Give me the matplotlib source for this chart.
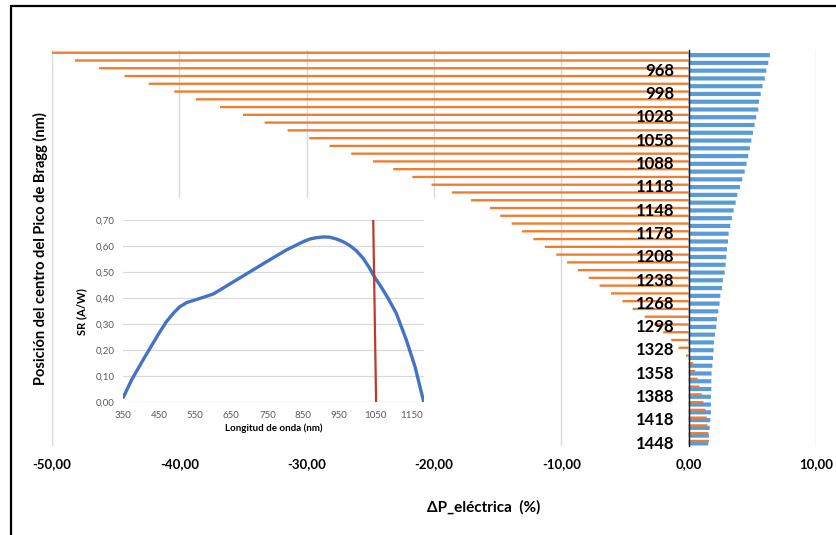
import numpy as np
import matplotlib
matplotlib.use("Agg")
import matplotlib.pyplot as plt
from matplotlib.lines import Line2D
from matplotlib import font_manager


def pick_family(candidates):
    """Return the first family that has a bold face installed."""
    for name in candidates:
        for f in font_manager.fontManager.ttflist:
            w = f.weight if isinstance(f.weight, int) else 400
            if f.name == name and (w >= 600 or str(f.weight) == 'bold'):
                return name
    return 'DejaVu Sans'


FAMILY = pick_family(['Lato', 'Open Sans', 'Noto Sans', 'Liberation Sans'])
plt.rcParams['font.family'] = [FAMILY, 'DejaVu Sans']

# Bragg peak centre (nm) for each row
wavelengths = list(range(948, 1449, 10))

# Electrical power change (%) - orange series
delta_orange = [
    -50.0, -48.2, -46.3, -44.3, -42.4, -40.4, -38.7, -36.8, -35.0, -33.3,
    -31.5, -29.8, -28.2, -26.5, -24.8, -23.2, -21.7, -20.2, -18.6, -17.1,
    -15.6, -14.8, -13.9, -13.1, -12.2, -11.3, -10.4, -9.55, -8.7, -7.85,
    -7.0, -6.1, -5.2, -4.4, -3.45, -2.7, -2.0, -1.37, -0.8, -0.2,
    0.36, 0.5, 0.7, 0.85, 1.03, 1.16, 1.32, 1.41, 1.46, 1.54, 1.60,
]

# Electrical power change (%) - blue series
delta_blue = [
    6.38, 6.25, 6.10, 5.98, 5.80, 5.66, 5.52, 5.47, 5.31, 5.18,
    5.05, 4.92, 4.81, 4.68, 4.55, 4.40, 4.21, 4.03, 3.82, 3.69,
    3.53, 3.40, 3.27, 3.14, 3.09, 3.01, 2.96, 2.90, 2.83, 2.69,
    2.62, 2.49, 2.43, 2.33, 2.22, 2.17, 2.06, 1.98, 1.96, 1.91,
    1.86, 1.80, 1.78, 1.78, 1.75, 1.75, 1.75, 1.70, 1.65, 1.59, 1.54,
]

x_ticks = [-50, -40, -30, -20, -10, 0, 10]
y_tick_labels = wavelengths[2::3]

# Spectral response of the cell (inset)
sr_wavelength = [350, 373, 405, 449, 470, 489, 507, 526, 549, 572, 600, 649,
                 692, 748, 803, 850, 868, 886, 905, 923, 942, 960, 979, 997,
                 1016, 1034, 1048, 1067, 1085, 1108, 1136, 1160, 1184]
sr_value = [0.019, 0.086, 0.163, 0.265, 0.310, 0.342, 0.367, 0.383, 0.393,
            0.403, 0.416, 0.457, 0.493, 0.540, 0.585, 0.617, 0.627, 0.632,
            0.635, 0.634, 0.627, 0.617, 0.602, 0.582, 0.553, 0.515, 0.480,
            0.441, 0.400, 0.342, 0.239, 0.137, 0.003]
sr_xticks = [350, 450, 550, 650, 750, 850, 950, 1050, 1150]
sr_yticks = [0.0, 0.1, 0.2, 0.3, 0.4, 0.5, 0.6, 0.7]

# Marker line for the selected wavelength
marker_x = [1044, 1052]
marker_y = [0.70, 0.0]

ORANGE = '#ED7D31'
BLUE = '#5B9BD5'
GRID = '#D9D9D9'

W, H = 837, 535
fig = plt.figure(figsize=(W / 100, H / 100), dpi=100)


def fx(px):
    return px / W


def fy(py):
    return 1 - py / H


# ---- main bar chart ----
ax = fig.add_axes([fx(52), fy(446), fx(816) - fx(52), fy(50) - fy(446)])
for side in ['top', 'right', 'bottom']:
    ax.spines[side].set_visible(False)
ax.spines['left'].set_position(('data', 0))
ax.spines['left'].set_color('#1a1a1a')
ax.spines['left'].set_linewidth(1.0)
ax.spines['left'].set_zorder(2.5)

wl = np.array(wavelengths, dtype=float)
ax.barh(wl + 1.6, delta_blue, height=5.4, color=BLUE, zorder=1, snap=False)
ax.barh(wl - 1.5, delta_orange, height=3.0, color=ORANGE, zorder=1.2,
        snap=False)

ax.set_xlim(-50, 10)
ax.set_ylim(wl[-1] + 5, wl[0] - 5)
ax.set_xticks(x_ticks)
ax.set_xticklabels([f"{v:.2f}".replace('.', ',') for v in x_ticks])
ax.set_yticks(y_tick_labels)
ax.set_yticklabels([str(v) for v in y_tick_labels])
ax.tick_params(axis='x', length=0, pad=9, colors='black', labelsize=9.5)
ax.tick_params(axis='y', length=0, pad=10.5, colors='black', labelsize=12)
ax.grid(axis='x', color=GRID, linewidth=1)
ax.xaxis.set_zorder(0.5)
ax.yaxis.set_zorder(3)

fig.text(fx(484), fy(507), 'ΔP_eléctrica  (%)', ha='center', va='center',
         fontsize=11, fontweight='bold')
fig.text(fx(40), fy(249), 'Posición del centro del Pico de Bragg (nm)',
         ha='center', va='center', rotation=90, fontsize=10.5,
         fontweight='bold')

# ---- inset chart area (white background) ----
bg = fig.add_axes([fx(66), fy(447), fx(440) - fx(66), fy(198) - fy(447)])
bg.set_facecolor('white')
bg.set_xticks([])
bg.set_yticks([])
for s in bg.spines.values():
    s.set_visible(False)

ins = fig.add_axes([fx(123.3), fy(402.3), fx(424) - fx(123.3),
                    fy(220) - fy(402.3)])
ins.set_facecolor('none')
ins.plot(sr_wavelength, sr_value, color='#4472C4', linewidth=2.4,
         solid_joinstyle='round', solid_capstyle='round', zorder=3)
ins.plot(marker_x, marker_y, color='#C0392B', linewidth=1.6, zorder=4)
ins.set_xlim(350, 1185)
ins.set_ylim(0, 0.7)
ins.set_xticks(sr_xticks)
ins.set_xticklabels([str(v) for v in sr_xticks])
ins.set_yticks(sr_yticks)
ins.set_yticklabels([f"{v:.2f}".replace('.', ',') for v in sr_yticks])
ins.tick_params(length=0, pad=6, labelsize=7, labelcolor='#595959')
ins.grid(axis='y', color=GRID, linewidth=0.9)
ins.set_axisbelow(True)
for s in ins.spines.values():
    s.set_visible(False)
ins.set_xlabel('Longitud de onda (nm)', fontsize=7, fontweight='bold',
               labelpad=3)
ins.set_ylabel('SR (A/W)', fontsize=8, fontweight='bold', labelpad=6)

# bold tick labels on the main chart
for lab in ax.get_xticklabels() + ax.get_yticklabels():
    lab.set_fontweight('bold')

# ---- outer frame ----
fig.add_artist(Line2D([fx(11), fx(11), 1.0], [0.0, fy(6), fy(6)],
                      transform=fig.transFigure, color='black',
                      linewidth=1.6, solid_joinstyle='miter'))

fig.savefig('out.png', dpi=100)
